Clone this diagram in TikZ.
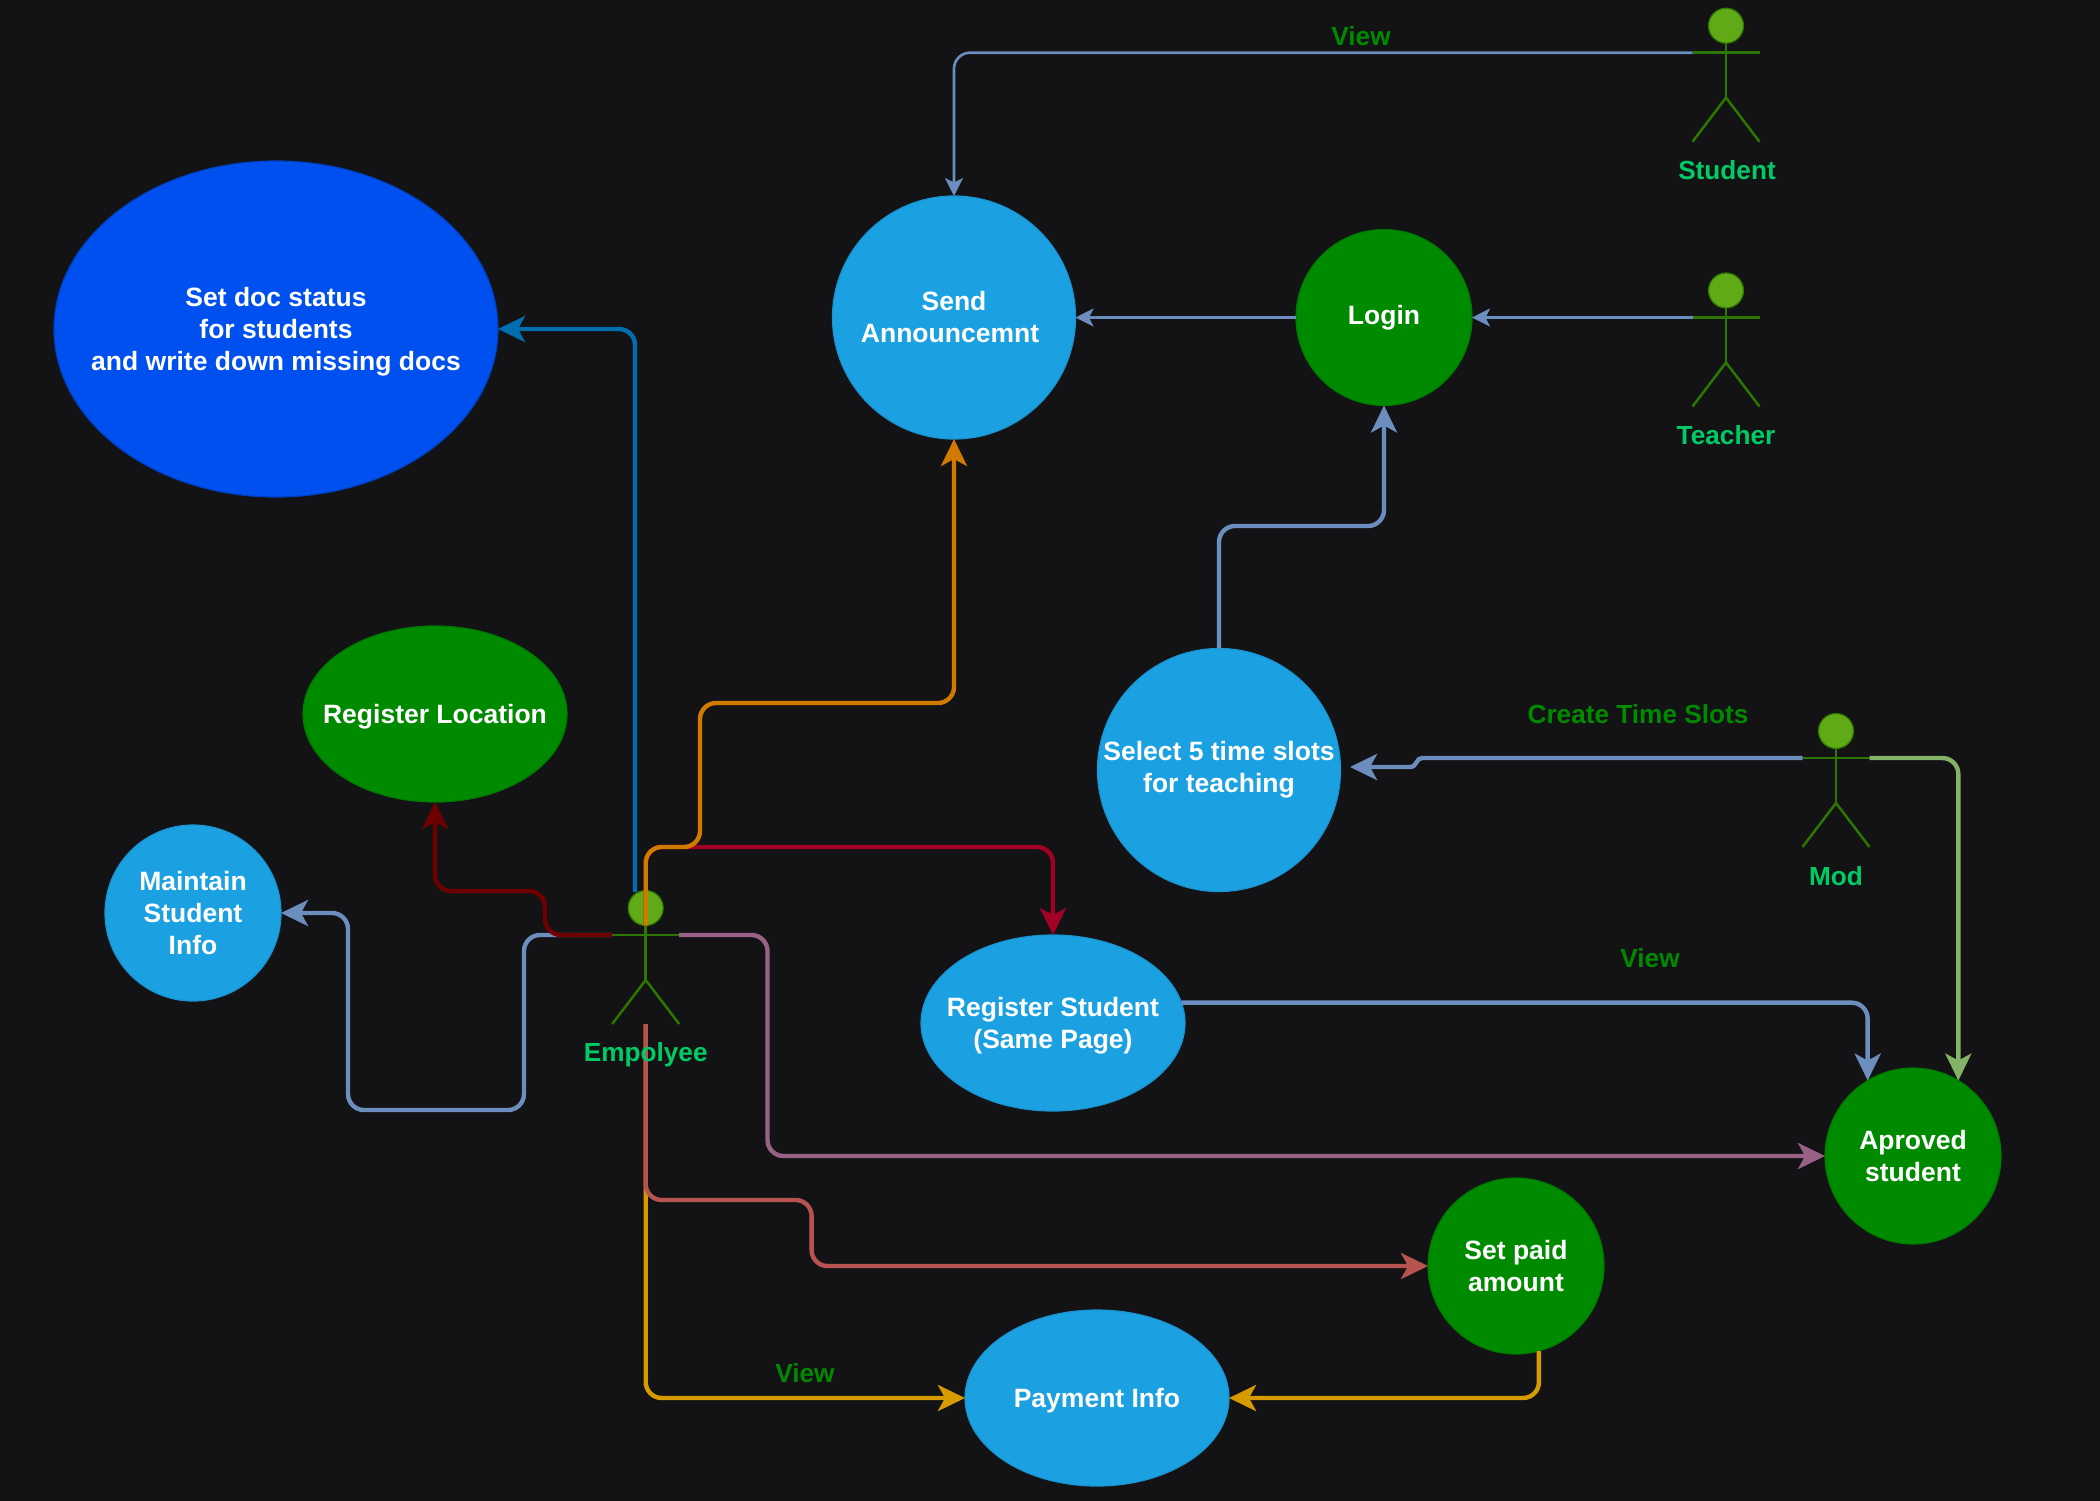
\documentclass[tikz,border=0pt]{standalone}
\usepackage{fontspec}
\setmainfont{Liberation Sans}
\usetikzlibrary{shapes.geometric,arrows.meta}
\definecolor{bgc}{HTML}{131214}
\definecolor{cyanc}{HTML}{1BA1E2}
\definecolor{greenc}{HTML}{008A00}
\definecolor{bluec}{HTML}{0050EF}
\definecolor{actline}{HTML}{2D7600}
\definecolor{acthead}{HTML}{60A917}
\definecolor{actlabel}{HTML}{00CC66}
\definecolor{slate}{HTML}{6C8EBF}
\definecolor{lgreen}{HTML}{82B366}
\definecolor{ocean}{HTML}{006EAF}
\definecolor{orangec}{HTML}{D07A00}
\definecolor{crimson}{HTML}{A20025}
\definecolor{dred}{HTML}{6F0000}
\definecolor{mauve}{HTML}{996185}
\definecolor{redc}{HTML}{B85450}
\definecolor{yellowc}{HTML}{D79B00}
\tikzset{
  bub/.style={ellipse,inner xsep=-95pt,inner ysep=-30pt,outer sep=0pt,align=center,text=white,
    font=\fontsize{13.25}{16}\selectfont\bfseries,line width=.6pt},
  cyanb/.style={bub,fill=cyanc,draw=cyanc!92!black},
  greenb/.style={bub,fill=greenc,draw=greenc!88!black},
  blueb/.style={bub,fill=bluec,draw=bluec!80!black},
  sz/.style 2 args={minimum width=#1pt,minimum height=#2pt},
  thinc/.style={line width=1.3pt,rounded corners=8pt,-{Stealth[length=9pt,width=9pt,inset=2.2pt]}},
  thickc/.style={line width=2.2pt,rounded corners=8pt,-{Stealth[length=13.5pt,width=13pt,inset=3.5pt]}},
  viewlab/.style={text=greenc,font=\fontsize{13.1}{16}\selectfont\bfseries,inner sep=0pt},
  actlab/.style={text=actlabel,font=\fontsize{13.1}{16}\selectfont\bfseries,inner sep=0pt},
  acthd/.style={circle,fill=acthead,draw=actline,line width=.6pt,minimum size=17.5pt,inner sep=0pt,outer sep=0pt},
  actln/.style={draw=actline,line width=1.25pt},
}
\newcommand{\actorfig}[3]{%
  \node[acthd] (#1h) at (#2,#3) {};
  \coordinate (#1n) at (#2,#3+17.5);
  \coordinate (#1al) at (#2-33.5,#3+27);
  \coordinate (#1ar) at (#2+33.5,#3+27);
  \coordinate (#1hip) at (#2,#3+72);
  \coordinate (#1fl) at (#2-33.5,#3+116);
  \coordinate (#1fr) at (#2+33.5,#3+116);
  \coordinate (#1ft) at (#2,#3+116);
  \draw[actln] (#1al) -- (#1ar);
  \draw[actln] (#1n) -- (#1hip);
  \draw[actln] (#1fl) -- (#1hip) -- (#1fr);
}
\begin{document}
\begin{tikzpicture}[x=0.5pt,y=-0.5pt]
\useasboundingbox (0,0) rectangle (2100,1500);
\fill[bgc] (-10,-10) rectangle (2110,1510);

% bubbles
\node[blueb,sz={222}{168},text depth=0pt] (doc) at (276,329) {Set doc status\\for students\\and write down missing docs};
\node[cyanb,sz={121.5}{121.5}] (send) at (954,317.5) {Send\\Announcemnt\hspace*{4pt}};
\node[greenb,sz={88}{88}] (login) at (1384,317.5) {Login};
\node[greenb,sz={132}{88},text depth=0pt] (loc) at (435,714) {Register Location};
\node[cyanb,sz={88}{88}] (maint) at (193,913) {Maintain\\Student\\Info};
\node[cyanb,sz={121.5}{121.5}] (slot) at (1219,770) {Select 5 time slots\\for teaching};
\node[cyanb,sz={132}{88},text depth=0pt] (regs) at (1053,1023) {Register Student\\(Same Page)};
\node[greenb,sz={88}{88}] (apr) at (1913,1156) {Aproved\\student};
\node[greenb,sz={88}{88}] (paid) at (1516,1266) {Set paid\\amount};
\node[cyanb,sz={132}{88},text depth=0pt] (pay) at (1097,1398) {Payment Info};

% actors
\actorfig{emp}{645.7}{908}
\actorfig{stu}{1726}{25.7}
\actorfig{tea}{1726}{290.5}
\actorfig{mod}{1836}{731}

\coordinate (slotin) at (1350,767);

% connectors
\draw[thinc,slate] (stual) -- (stual -| send.north) -- (send.north);
\draw[thinc,slate] (login.west) -- (send.east);
\draw[thinc,slate] (teaal) -- (login.east);
\draw[thickc,slate] (slot.north) -- (1219,526) -- (1384,526) -- (login.south);
\draw[line width=2.2pt,slate,-{Stealth[length=13.5pt,width=13pt,inset=3.5pt]}] (modal) -- (1422,758) .. controls (1416,758) and (1417,767) .. (1410,767) -- (slotin);
\draw[thickc,lgreen] (modar) -- (modar -| apr.59) -- (apr.59);
\draw[thickc,slate] (regs.9.5) -- (regs.9.5 -| apr.121) -- (apr.121);
\draw[thickc,ocean] (635,892) -- (635,329) -- (doc.east);
\draw[thickc,crimson] (empn) -- (645.7,847) -- (1053,847) -- (regs.north);
\draw[thickc,orangec] (empn) -- (645.7,847) -- (700,847) -- (700,703) -- (954,703) -- (send.south);
\draw[thickc,slate] (empal) -- (524,935) -- (524,1110) -- (348,1110) -- (348,913) -- (maint.east);
\draw[thickc,dred] (empal) -- (545,935) -- (545,891) -- (435,891) -- (loc.south);
\draw[thickc,mauve] (empar) -- (767.5,935) -- (767.5,1156) -- (apr.west);
\draw[thickc,yellowc] (empft) -- (645.7,1398) -- (pay.west);
\draw[thickc,redc] (empft) -- (645.7,1200) -- (811.6,1200) -- (811.6,1266) -- (paid.west);
\draw[thickc,yellowc] (paid.285) -- (1539,1398) -- (pay.east);

% labels
\node[actlab] (emplab) at (645.7,1055) {Empolyee};
\node[actlab] (stulab) at (1727,170) {Student};
\node[actlab] (tealab) at (1726,435.5) {Teacher};
\node[actlab] (modlab) at (1836,876) {Mod};
\node[viewlab] (v1) at (1361,36) {View};
\node[viewlab] (v2) at (1650,958) {View};
\node[viewlab] (v3) at (805,1373) {View};
\node[viewlab] (v4) at (1638,714) {Create Time Slots};
\end{tikzpicture}
\end{document}
